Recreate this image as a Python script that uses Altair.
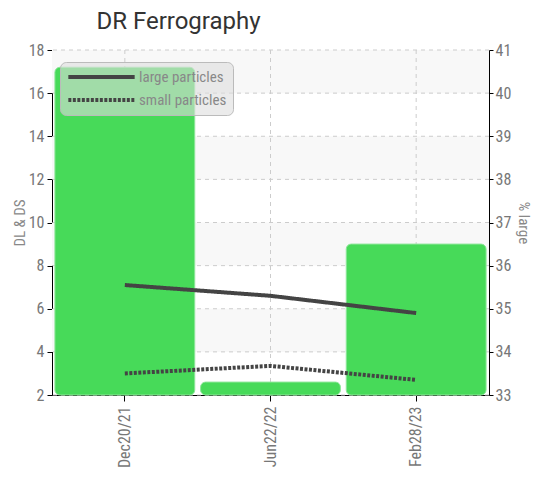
import altair as alt
import pandas as pd

dates = ["Dec20/21", "Jun22/22", "Feb28/23"]
large_particles = [7.1, 6.6, 5.8]
small_particles = [3.0, 3.35, 2.7]
pct_large = [40.6, 33.3, 36.5]
left_ticks = [2, 4, 6, 8, 10, 12, 14, 16, 18]
right_ticks = [33, 34, 35, 36, 37, 38, 39, 40, 41]
series_names = ["large particles", "small particles"]

FONT = "Liberation Sans Narrow, Roboto Condensed, Roboto, sans-serif"
LEFT_DOMAIN = [left_ticks[0], left_ticks[-1]]
RIGHT_DOMAIN = [right_ticks[0], right_ticks[-1]]

lines_df = pd.DataFrame({
    "date": dates * 2,
    "series": [series_names[0]] * 3 + [series_names[1]] * 3,
    "value": large_particles + small_particles,
})
bars_df = pd.DataFrame({"date": dates, "pct": pct_large})
stripes_df = pd.DataFrame({
    "y0": [left_ticks[i] for i in range(1, len(left_ticks) - 1, 2)],
    "y1": [left_ticks[i + 1] for i in range(1, len(left_ticks) - 1, 2)],
})
grid_df = pd.DataFrame({"t": left_ticks})
vgrid_df = pd.DataFrame({"date": dates})

X = alt.X("date:N", sort=dates, title=None,
          scale=alt.Scale(paddingInner=0.04, paddingOuter=0.02),
          axis=alt.Axis(labelAngle=-90, labelAlign="right", labelBaseline="middle",
                        tickSize=6, labelPadding=5, grid=False))

left_axis = alt.Axis(orient="left", title="DL & DS", values=left_ticks, grid=False,
                     tickSize=5, labelPadding=3, titlePadding=1)

stripes = alt.Chart(stripes_df).mark_rect(color="#f8f8f8").encode(
    y=alt.Y("y0:Q", scale=alt.Scale(domain=LEFT_DOMAIN, nice=False), axis=left_axis),
    y2="y1:Q",
)

hgrid = alt.Chart(grid_df).mark_rule(color="#cccccc", strokeDash=[4, 4], strokeWidth=1).encode(
    y=alt.Y("t:Q", scale=alt.Scale(domain=LEFT_DOMAIN, nice=False), axis=None),
)

vgrid = alt.Chart(vgrid_df).mark_rule(color="#cccccc", strokeDash=[4, 4], strokeWidth=1).encode(
    x=X,
)

bars = alt.Chart(bars_df).mark_bar(color="#47DA59", cornerRadius=5,
                                    stroke="#8ee69a", strokeWidth=1).encode(
    x=X,
    y=alt.Y("pct:Q", scale=alt.Scale(domain=RIGHT_DOMAIN, nice=False, zero=False),
            axis=alt.Axis(orient="right", title="% large", values=right_ticks, grid=False,
                          titleAngle=90, tickSize=4, labelPadding=2, titlePadding=5)),
    y2=alt.datum(right_ticks[0]),
)

lines = alt.Chart(lines_df).mark_line(color="#444444", strokeWidth=4).encode(
    x=X,
    y=alt.Y("value:Q", scale=alt.Scale(domain=LEFT_DOMAIN, nice=False), axis=None),
    strokeDash=alt.StrokeDash(
        "series:N",
        scale=alt.Scale(domain=series_names, range=[[1, 0], [3, 1.5]]),
        legend=alt.Legend(title=None, orient="none", legendX=8, legendY=12,
                          symbolType="stroke", symbolSize=4400, symbolStrokeWidth=4,
                          symbolStrokeColor="#444444", clipHeight=18,
                          labelFont=FONT, labelFontSize=15, labelColor="#888888",
                          fillColor="rgba(222,222,222,0.6)", strokeColor="#bbbbbb",
                          cornerRadius=6, padding=6, rowPadding=5, labelOffset=2),
    ),
)

chart = alt.layer(stripes, hgrid, vgrid, bars, lines).resolve_scale(
    y="independent"
).properties(
    width=437,
    height=345,
    autosize=alt.AutoSizeParams(type="none"),
    padding={"left": 44, "top": 42, "right": 51, "bottom": 75},
    title=alt.Title("DR Ferrography", anchor="middle", dx=-92, fontSize=24,
                    font="Roboto", color="#333333", fontWeight="normal", offset=8),
).configure_view(strokeWidth=0).configure_axis(
    domainColor="#000000", tickColor="#000000", labelColor="#777777",
    labelFont=FONT, labelFontSize=16, titleColor="#888888", titleFont=FONT,
    titleFontSize=15, titleFontWeight="normal",
)

chart.save("out.html", embed_options={"renderer": "svg", "actions": False})
